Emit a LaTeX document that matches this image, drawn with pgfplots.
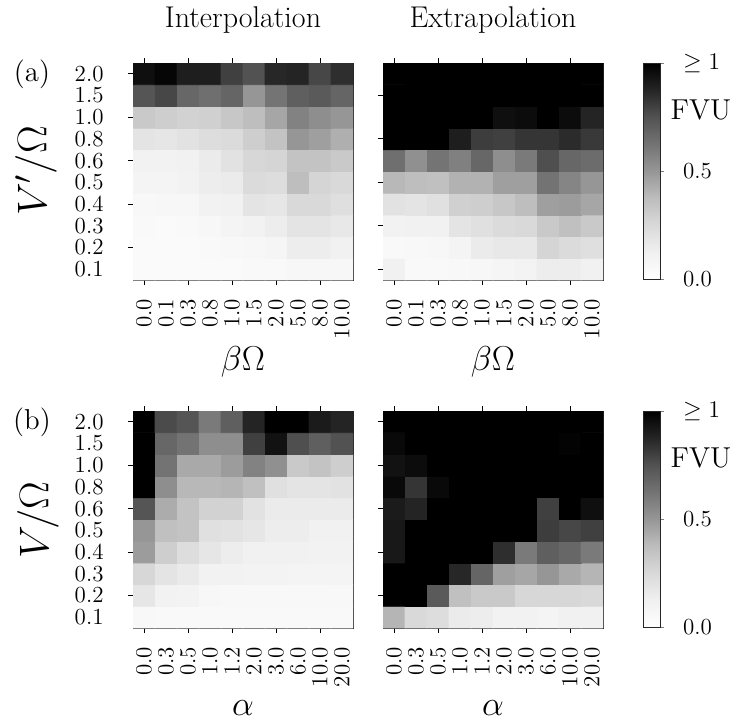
\documentclass[border=0pt]{standalone}
\usepackage{pgfplots}
\pgfplotsset{compat=1.18}
\pgfplotsset{
 colormap={greys}{rgb255=(255,255,255) rgb255=(240,240,240) rgb255=(217,217,217) rgb255=(189,189,189) rgb255=(150,150,150) rgb255=(115,115,115) rgb255=(82,82,82) rgb255=(37,37,37) rgb255=(0,0,0)},
 hm/.style={
  scale only axis, width=110pt, height=108.5pt,
  xmin=-0.5, xmax=9.5, ymin=-0.5, ymax=9.5,
  colormap name=greys, point meta min=0, point meta max=1,
  axis line style={black!85, line width=0.5pt},
  tick align=outside, major tick length=0pt,
  xtick={0,...,9}, ytick={0,...,9},
  yticklabels={0.1,0.2,0.3,0.4,0.5,0.6,0.8,1.0,1.5,2.0},
  xtick pos=both, xticklabel pos=lower, ytick pos=left, yticklabel pos=left,
  tick label style={font=\fontsize{11.5}{13}\selectfont},
  xticklabel style={rotate=90, anchor=east},
  xticklabel shift=6pt, yticklabel shift=11.2pt,
  extra x ticks={0,2,4,6,8}, extra x tick labels={}, extra y tick labels={},
  extra tick style={major tick length=2.5pt, tick style={black, line width=0.5pt}},
 },
 cb/.style={colorbar, colorbar style={at={(parent axis.north east)}, anchor=north west, xshift=11.5pt,
   width=8.5pt, height=108pt, ytick={0,0.5,1}, yticklabels={0.0,0.5,$\geq 1$},
   major tick length=2pt, tick align=outside, ytick pos=right, yticklabel pos=right,
   yticklabel shift=6pt, axis line style={black!85, line width=0.5pt},
   yticklabel style={font=\fontsize{11.5}{13}\selectfont, anchor=west}}},
 mp/.style={matrix plot*, mesh/cols=10, point meta=explicit, draw=none},
}
\begin{document}
\begin{tikzpicture}
\path[use as bounding box] (0,0) rectangle (367pt,-361.5pt);
% (a) interpolation
\begin{axis}[hm, at={(66.5pt,-31.5pt)}, anchor=north west,
  xticklabels={0.0,0.1,0.3,0.8,1.0,1.5,2.0,5.0,8.0,10.0}, extra y ticks={9,7,5,3,1}]
\addplot[mp] coordinates {
(0,0)[0.04] (1,0)[0.04] (2,0)[0.04] (3,0)[0.04] (4,0)[0.04] (5,0)[0.05] (6,0)[0.05] (7,0)[0.07] (8,0)[0.07] (9,0)[0.07]
(0,1)[0.04] (1,1)[0.04] (2,1)[0.04] (3,1)[0.05] (4,1)[0.06] (5,1)[0.07] (6,1)[0.08] (7,1)[0.14] (8,1)[0.14] (9,1)[0.12]
(0,2)[0.05] (1,2)[0.04] (2,2)[0.05] (3,2)[0.07] (4,2)[0.09] (5,2)[0.11] (6,2)[0.14] (7,2)[0.19] (8,2)[0.19] (9,2)[0.17]
(0,3)[0.06] (1,3)[0.07] (2,3)[0.07] (3,3)[0.11] (4,3)[0.12] (5,3)[0.19] (6,3)[0.18] (7,3)[0.25] (8,3)[0.25] (9,3)[0.22]
(0,4)[0.09] (1,4)[0.09] (2,4)[0.11] (3,4)[0.14] (4,4)[0.15] (5,4)[0.24] (6,4)[0.23] (7,4)[0.37] (8,4)[0.27] (9,4)[0.25]
(0,5)[0.11] (1,5)[0.11] (2,5)[0.12] (3,5)[0.15] (4,5)[0.20] (5,5)[0.26] (6,5)[0.27] (7,5)[0.35] (8,5)[0.35] (9,5)[0.32]
(0,6)[0.19] (1,6)[0.18] (2,6)[0.20] (3,6)[0.23] (4,6)[0.24] (5,6)[0.30] (6,6)[0.35] (7,6)[0.50] (8,6)[0.47] (9,6)[0.42]
(0,7)[0.32] (1,7)[0.30] (2,7)[0.28] (3,7)[0.29] (4,7)[0.33] (5,7)[0.37] (6,7)[0.45] (7,7)[0.57] (8,7)[0.53] (9,7)[0.50]
(0,8)[0.74] (1,8)[0.78] (2,8)[0.67] (3,8)[0.64] (4,8)[0.68] (5,8)[0.50] (6,8)[0.62] (7,8)[0.70] (8,8)[0.72] (9,8)[0.68]
(0,9)[0.95] (1,9)[0.98] (2,9)[0.90] (3,9)[0.90] (4,9)[0.80] (5,9)[0.75] (6,9)[0.87] (7,9)[0.88] (8,9)[0.78] (9,9)[0.85]
};
\end{axis}
% (a) extrapolation
\begin{axis}[hm, cb, at={(191.5pt,-31.5pt)}, anchor=north west,
  xticklabels={0.0,0.1,0.3,0.8,1.0,1.5,2.0,5.0,8.0,10.0}, yticklabels={}, extra y ticks={8,6,4,2,0}]
\addplot[mp] coordinates {
(0,0)[0.12] (1,0)[0.05] (2,0)[0.05] (3,0)[0.06] (4,0)[0.07] (5,0)[0.08] (6,0)[0.10] (7,0)[0.14] (8,0)[0.14] (9,0)[0.12]
(0,1)[0.05] (1,1)[0.06] (2,1)[0.07] (3,1)[0.09] (4,1)[0.15] (5,1)[0.17] (6,1)[0.17] (7,1)[0.27] (8,1)[0.24] (9,1)[0.22]
(0,2)[0.11] (1,2)[0.12] (2,2)[0.12] (3,2)[0.19] (4,2)[0.21] (5,2)[0.24] (6,2)[0.25] (7,2)[0.32] (8,2)[0.36] (9,2)[0.32]
(0,3)[0.20] (1,3)[0.19] (2,3)[0.21] (3,3)[0.29] (4,3)[0.30] (5,3)[0.33] (6,3)[0.37] (7,3)[0.47] (8,3)[0.48] (9,3)[0.45]
(0,4)[0.39] (1,4)[0.37] (2,4)[0.36] (3,4)[0.41] (4,4)[0.41] (5,4)[0.47] (6,4)[0.47] (7,4)[0.625] (8,4)[0.56] (9,4)[0.50]
(0,5)[0.64] (1,5)[0.52] (2,5)[0.62] (3,5)[0.58] (4,5)[0.67] (5,5)[0.53] (6,5)[0.60] (7,5)[0.76] (8,5)[0.67] (9,5)[0.65]
(0,6)[1] (1,6)[1] (2,6)[1] (3,6)[0.90] (4,6)[0.81] (5,6)[0.80] (6,6)[0.83] (7,6)[0.83] (8,6)[0.86] (9,6)[0.82]
(0,7)[1] (1,7)[1] (2,7)[1] (3,7)[1] (4,7)[1] (5,7)[0.95] (6,7)[0.96] (7,7)[1] (8,7)[0.96] (9,7)[0.88]
(0,8)[1] (1,8)[1] (2,8)[1] (3,8)[1] (4,8)[1] (5,8)[1] (6,8)[1] (7,8)[1] (8,8)[1] (9,8)[1]
(0,9)[1] (1,9)[1] (2,9)[1] (3,9)[1] (4,9)[1] (5,9)[1] (6,9)[1] (7,9)[1] (8,9)[1] (9,9)[1]
};
\end{axis}
% (b) interpolation
\begin{axis}[hm, at={(66.5pt,-205.5pt)}, anchor=north west,
  xticklabels={0.0,0.3,0.5,1.0,1.2,2.0,3.0,6.0,10.0,20.0}, extra y ticks={9,7,5,3,1}]
\addplot[mp] coordinates {
(0,0)[0.06] (1,0)[0.05] (2,0)[0.05] (3,0)[0.05] (4,0)[0.05] (5,0)[0.05] (6,0)[0.05] (7,0)[0.05] (8,0)[0.05] (9,0)[0.05]
(0,1)[0.18] (1,1)[0.11] (2,1)[0.10] (3,1)[0.07] (4,1)[0.06] (5,1)[0.06] (6,1)[0.06] (7,1)[0.06] (8,1)[0.06] (9,1)[0.06]
(0,2)[0.26] (1,2)[0.19] (2,2)[0.16] (3,2)[0.11] (4,2)[0.11] (5,2)[0.10] (6,2)[0.10] (7,2)[0.09] (8,2)[0.09] (9,2)[0.09]
(0,3)[0.48] (1,3)[0.30] (2,3)[0.23] (3,3)[0.18] (4,3)[0.14] (5,3)[0.12] (6,3)[0.12] (7,3)[0.12] (8,3)[0.11] (9,3)[0.11]
(0,4)[0.50] (1,4)[0.36] (2,4)[0.35] (3,4)[0.21] (4,4)[0.20] (5,4)[0.18] (6,4)[0.14] (7,4)[0.14] (8,4)[0.12] (9,4)[0.12]
(0,5)[0.74] (1,5)[0.43] (2,5)[0.35] (3,5)[0.28] (4,5)[0.28] (5,5)[0.20] (6,5)[0.15] (7,5)[0.15] (8,5)[0.15] (9,5)[0.15]
(0,6)[1] (1,6)[0.53] (2,6)[0.39] (3,6)[0.39] (4,6)[0.40] (5,6)[0.36] (6,6)[0.21] (7,6)[0.19] (8,6)[0.19] (9,6)[0.20]
(0,7)[1] (1,7)[0.625] (2,7)[0.44] (3,7)[0.44] (4,7)[0.48] (5,7)[0.57] (6,7)[0.52] (7,7)[0.32] (8,7)[0.35] (9,7)[0.30]
(0,8)[1] (1,8)[0.67] (2,8)[0.625] (3,8)[0.53] (4,8)[0.53] (5,8)[0.80] (6,8)[0.94] (7,8)[0.76] (8,8)[0.70] (9,8)[0.75]
(0,9)[1] (1,9)[0.77] (2,9)[0.74] (3,9)[0.60] (4,9)[0.70] (5,9)[0.88] (6,9)[1] (7,9)[1] (8,9)[0.91] (9,9)[0.88]
};
\end{axis}
% (b) extrapolation
\begin{axis}[hm, cb, at={(191.5pt,-205.5pt)}, anchor=north west,
  xticklabels={0.0,0.3,0.5,1.0,1.2,2.0,3.0,6.0,10.0,20.0}, yticklabels={}, extra y ticks={9,7,5,3,1}]
\addplot[mp] coordinates {
(0,0)[0.40] (1,0)[0.25] (2,0)[0.23] (3,0)[0.15] (4,0)[0.14] (5,0)[0.11] (6,0)[0.11] (7,0)[0.09] (8,0)[0.12] (9,0)[0.12]
(0,1)[1] (1,1)[1] (2,1)[0.72] (3,1)[0.36] (4,1)[0.32] (5,1)[0.32] (6,1)[0.26] (7,1)[0.26] (8,1)[0.26] (9,1)[0.25]
(0,2)[1] (1,2)[1] (2,2)[1] (3,2)[0.87] (4,2)[0.68] (5,2)[0.47] (6,2)[0.45] (7,2)[0.50] (8,2)[0.44] (9,2)[0.40]
(0,3)[0.92] (1,3)[1] (2,3)[1] (3,3)[1] (4,3)[1] (5,3)[0.85] (6,3)[0.60] (7,3)[0.70] (8,3)[0.67] (9,3)[0.60]
(0,4)[0.92] (1,4)[1] (2,4)[1] (3,4)[1] (4,4)[1] (5,4)[1] (6,4)[1] (7,4)[0.81] (8,4)[0.78] (9,4)[0.80]
(0,5)[0.91] (1,5)[0.88] (2,5)[1] (3,5)[1] (4,5)[1] (5,5)[1] (6,5)[1] (7,5)[0.80] (8,5)[1] (9,5)[0.95]
(0,6)[0.97] (1,6)[0.83] (2,6)[0.97] (3,6)[1] (4,6)[1] (5,6)[1] (6,6)[1] (7,6)[1] (8,6)[1] (9,6)[1]
(0,7)[0.94] (1,7)[0.96] (2,7)[1] (3,7)[1] (4,7)[1] (5,7)[1] (6,7)[1] (7,7)[1] (8,7)[1] (9,7)[1]
(0,8)[0.97] (1,8)[1] (2,8)[1] (3,8)[1] (4,8)[1] (5,8)[1] (6,8)[1] (7,8)[1] (8,8)[0.99] (9,8)[1]
(0,9)[1] (1,9)[1] (2,9)[1] (3,9)[1] (4,9)[1] (5,9)[1] (6,9)[1] (7,9)[1] (8,9)[1] (9,9)[1]
};
\end{axis}
% labels
\node[font=\fontsize{15}{18}\selectfont] at (121.5pt,-10pt) {Interpolation};
\node[font=\fontsize{15}{18}\selectfont] at (246.5pt,-10pt) {Extrapolation};
\node[font=\LARGE] at (121.5pt,-181pt) {$\beta\Omega$};
\node[font=\LARGE] at (246.5pt,-181pt) {$\beta\Omega$};
\node[font=\LARGE] at (121.5pt,-354pt) {$\alpha$};
\node[font=\LARGE] at (246.5pt,-354pt) {$\alpha$};
\node[font=\huge, rotate=90] at (18pt,-85.5pt) {$V'/\Omega$};
\node[font=\huge, rotate=90] at (19pt,-260pt) {$V/\Omega$};
\node[font=\Large] at (16pt,-37pt) {(a)};
\node[font=\Large] at (16pt,-211pt) {(b)};
\node[font=\Large] at (350.5pt,-55pt) {FVU};
\node[font=\Large] at (350.5pt,-229pt) {FVU};
\end{tikzpicture}
\end{document}
